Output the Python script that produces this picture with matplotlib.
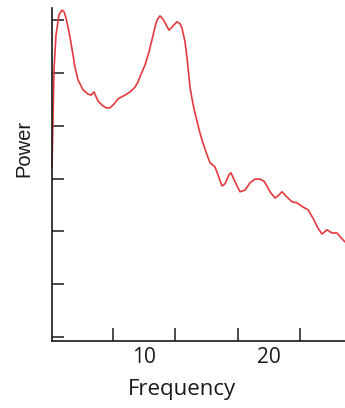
import numpy as np
import matplotlib.pyplot as plt

# spectrum samples (frequency, power)
freq = [2.64, 2.72, 2.80, 2.96, 3.20, 3.44, 3.60, 3.76, 3.92, 4.08,
        4.32, 4.48, 4.72, 5.12, 5.52, 5.76, 6.00, 6.32, 6.64, 6.96,
        7.28, 7.60, 7.92, 8.48, 8.88, 9.28, 9.52, 9.84, 10.08, 10.40,
        10.64, 10.88, 11.04, 11.28, 11.52, 11.68, 12.00, 12.32, 12.64, 12.88,
        13.04, 13.28, 13.44, 13.68, 13.92, 14.08, 14.48, 14.72, 15.04, 15.28,
        15.68, 15.92, 16.24, 16.48, 16.80, 16.96, 17.28, 17.68, 18.08, 18.48,
        18.88, 19.28, 19.60, 19.84, 20.08, 20.48, 20.80, 21.04, 21.44, 21.84,
        22.24, 22.72, 23.12, 23.52, 23.92, 24.24, 24.64, 25.04, 25.44, 25.76,
        26.08]
power = [3.20, 4.11, 5.06, 5.72, 6.10, 6.19, 6.16, 6.04, 5.87, 5.68,
         5.34, 5.11, 4.87, 4.68, 4.60, 4.58, 4.64, 4.47, 4.39, 4.34,
         4.34, 4.41, 4.51, 4.58, 4.64, 4.73, 4.83, 5.02, 5.15, 5.40,
         5.63, 5.87, 6.00, 6.08, 6.02, 5.95, 5.81, 5.89, 5.97, 5.93,
         5.85, 5.59, 5.30, 4.73, 4.41, 4.24, 3.86, 3.67, 3.45, 3.30,
         3.22, 3.07, 2.86, 2.90, 3.07, 3.11, 2.94, 2.75, 2.78, 2.92,
         2.99, 2.99, 2.95, 2.86, 2.75, 2.63, 2.69, 2.75, 2.65, 2.56,
         2.54, 2.46, 2.41, 2.25, 2.06, 1.95, 2.03, 1.97, 1.97, 1.88,
         1.80]

x_ticks = [7.5, 12.5, 17.5, 22.5]
x_labels = [10, 20]
y_ticks = [0, 1, 2, 3, 4, 5, 6]

fig = plt.figure(figsize=(3.45, 4.08), dpi=100)
ax = fig.add_axes([0.1507, 0.1642, 0.8493, 0.8162])

ax.plot(freq, power, color='#e3393f', lw=1.2, clip_on=False,
        solid_joinstyle='round', solid_capstyle='round')

ax.set_xlim(2.64, 26.08)
ax.set_ylim(-0.076, 6.23)

ax.spines['top'].set_visible(False)
ax.spines['right'].set_visible(False)
for s in ['left', 'bottom']:
    ax.spines[s].set_linewidth(1.2)
    ax.spines[s].set_color('#1a1a1a')

ax.set_xticks(x_ticks)
ax.set_xticklabels([])
ax.set_xticks(x_labels, minor=True)
ax.set_xticklabels([str(v) for v in x_labels], minor=True,
                   fontsize=15, family='Open Sans', color='#1a1a1a')
ax.tick_params(axis='x', which='major', direction='in', length=9.4, width=1.1, color='#1a1a1a')
ax.tick_params(axis='x', which='minor', length=0, pad=4)

ax.set_yticks(y_ticks)
ax.set_yticklabels([])
ax.tick_params(axis='y', direction='in', length=8.6, width=1.1, color='#1a1a1a')

fig.text(182 / 345, 1 - 390 / 408, 'Frequency', ha='center', va='center',
         fontsize=16, family='Open Sans', color='#1a1a1a')
fig.text(24 / 345, 1 - 148 / 408, 'Power', ha='center', va='center',
         rotation=90, fontsize=14.5, family='Liberation Sans', color='#1a1a1a')

fig.savefig('out.png', dpi=100)
